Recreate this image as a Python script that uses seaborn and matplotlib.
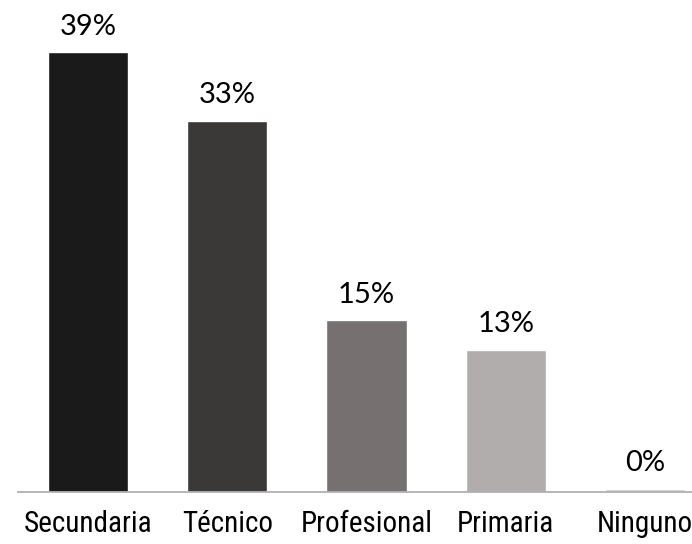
import matplotlib
matplotlib.use("Agg")
import matplotlib.pyplot as plt
import seaborn as sns
import pandas as pd

categories = ["Secundaria", "Técnico", "Profesional", "Primaria", "Ninguno"]
values = [39.0, 32.9, 15.2, 12.6, 0.24]
colors = ["#1a1a1a", "#3b3938", "#767170", "#b0adac", "#cfcdcc"]

df = pd.DataFrame({"cat": categories, "val": values})

sns.set_style("white")
plt.rcParams["font.family"] = ["Lato", "DejaVu Sans"]

fig = plt.figure(figsize=(6.92, 5.44), dpi=100)
W, H = 692.0, 544.0
left = 18.4
axw = 5 * 139.25
base = 491.7
ax = fig.add_axes([left / W, (H - base) / H, axw / W, base / H])

sns.barplot(data=df, x="cat", y="val", hue="cat", palette=colors, legend=False,
            width=0.575, saturation=1, ax=ax)

ax.set_xlim(-0.5, 4.5)
ax.set_ylim(0, base / 11.27)
ax.set_xlabel("")
ax.set_ylabel("")
ax.set_yticks([])
for s in ["top", "right", "left"]:
    ax.spines[s].set_visible(False)
ax.spines["bottom"].set_color("#b0b0b0")
ax.spines["bottom"].set_linewidth(1.3)
ax.tick_params(axis="x", length=0, pad=13.5)
for lab in ax.get_xticklabels():
    lab.set_fontfamily(["Roboto Condensed", "DejaVu Sans Condensed", "Lato"])
    lab.set_fontsize(21)
    lab.set_color("#000000")

for i, v in enumerate(values):
    ax.annotate(f"{v:.0f}%", xy=(i, v), xytext=(0, 9), textcoords="offset points",
                ha="center", va="bottom", fontsize=21, color="#000000")

fig.savefig("out.png", dpi=100)
